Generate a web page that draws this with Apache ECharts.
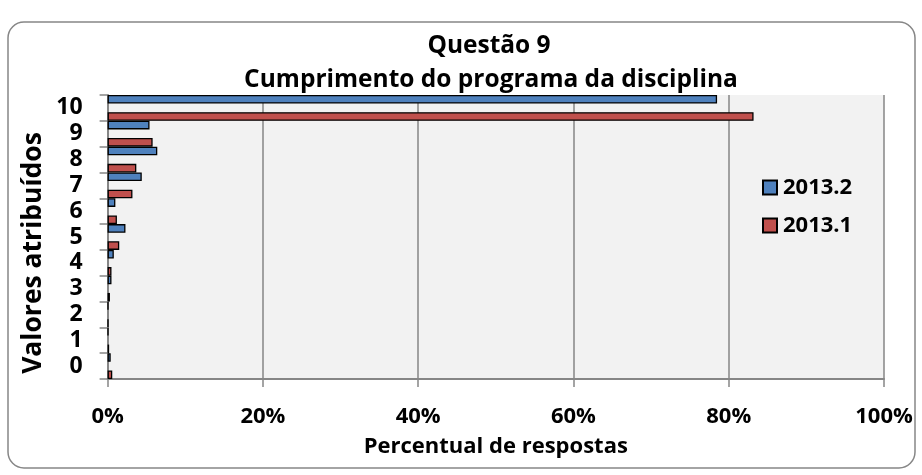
<!DOCTYPE html>
<html>
<head>
<meta charset="utf-8">
<script src="https://cdn.jsdelivr.net/npm/echarts@6/dist/echarts.min.js"></script>
<style>
  html, body { margin: 0; padding: 0; background: #fff; }
  #chart { width: 922px; height: 475px; }
</style>
</head>
<body>
<div id="chart"></div>
<script>
// Rating values (0–10) given to question 9
const categories = ['0', '1', '2', '3', '4', '5', '6', '7', '8', '9', '10'];
// Share of answers (%) per rating, by semester
const values2013_2 = [0.4, 0.1, 0.1, 0.5, 0.8, 2.3, 1.0, 4.4, 6.4, 5.4, 78.5];
const values2013_1 = [0.6, 0.2, 0.1, 0.3, 0.5, 1.5, 1.2, 3.2, 3.7, 5.8, 83.2];
const xTicks = [0, 20, 40, 60, 80, 100];

const FONT = 'Open Sans';
const chart = echarts.init(document.getElementById('chart'));

chart.setOption({
  backgroundColor: '#ffffff',
  animation: false,
  graphic: [
    {
      // rounded frame around the whole chart
      type: 'rect',
      shape: { x: 8, y: 22, width: 907, height: 446, r: 16 },
      style: { fill: 'none', stroke: '#868686', lineWidth: 1.5 },
      z: -1
    },
    {
      type: 'text',
      x: 489, y: 46,
      style: {
        text: 'Questão 9',
        fontFamily: FONT, fontWeight: 'bold', fontSize: 24.5, fill: '#000',
        textAlign: 'center', textVerticalAlign: 'middle'
      }
    },
    {
      type: 'text',
      x: 491, y: 80,
      style: {
        text: 'Cumprimento do programa da disciplina',
        fontFamily: FONT, fontWeight: 'bold', fontSize: 24.5, fill: '#000',
        textAlign: 'center', textVerticalAlign: 'middle'
      }
    },
    {
      // y-axis title
      type: 'text',
      x: 33, y: 253,
      rotation: Math.PI / 2,
      style: {
        text: 'Valores atribuídos',
        fontFamily: FONT, fontWeight: 'bold', fontSize: 26.5, fill: '#000',
        textAlign: 'center', textVerticalAlign: 'middle'
      }
    }
  ],
  legend: {
    orient: 'vertical',
    left: 762,
    top: 176.5,
    padding: 0,
    itemWidth: 14,
    itemHeight: 14,
    itemGap: 16,
    icon: 'rect',
    data: ['2013.2', '2013.1'],
    textStyle: { fontFamily: FONT, fontWeight: 'bold', fontSize: 22, color: '#000', padding: [0, 0, 0, 1] }
  },
  grid: {
    left: 107.6,
    right: 38,
    top: 95,
    bottom: 96,
    show: true,
    backgroundColor: '#f2f2f2',
    borderWidth: 0
  },
  xAxis: {
    type: 'value',
    min: 0,
    max: 100,
    interval: 20,
    name: 'Percentual de respostas',
    nameLocation: 'middle',
    nameGap: 57,
    nameTextStyle: { fontFamily: FONT, fontWeight: 'bold', fontSize: 22, color: '#000' },
    axisLine: { show: true, lineStyle: { color: '#868686', width: 2 } },
    axisTick: { show: true, length: 8, lineStyle: { color: '#868686', width: 1.5 } },
    axisLabel: {
      margin: 27,
      fontFamily: FONT, fontWeight: 'bold', fontSize: 22, color: '#000',
      formatter: v => xTicks.includes(v) ? v + '%' : ''
    },
    splitLine: { show: true, lineStyle: { color: '#868686', width: 1.5 } }
  },
  yAxis: {
    type: 'category',
    data: categories,
    axisLine: { show: true, lineStyle: { color: '#868686', width: 2 } },
    axisTick: { show: true, length: 8, lineStyle: { color: '#868686', width: 1.5 } },
    axisLabel: { interval: 0, margin: 25, fontFamily: FONT, fontWeight: 'bold', fontSize: 23, color: '#000' },
    splitLine: { show: false }
  },
  series: [
    {
      name: '2013.2',
      type: 'bar',
      data: values2013_2,
      barCategoryGap: 0,
      barGap: '100%',
      itemStyle: { color: '#4f81bd', borderColor: '#000', borderWidth: 1.3 }
    },
    {
      name: '2013.1',
      type: 'bar',
      data: values2013_1,
      barCategoryGap: 0,
      barGap: '100%',
      itemStyle: { color: '#c0504d', borderColor: '#000', borderWidth: 1.3 }
    }
  ]
});
</script>
</body>
</html>
